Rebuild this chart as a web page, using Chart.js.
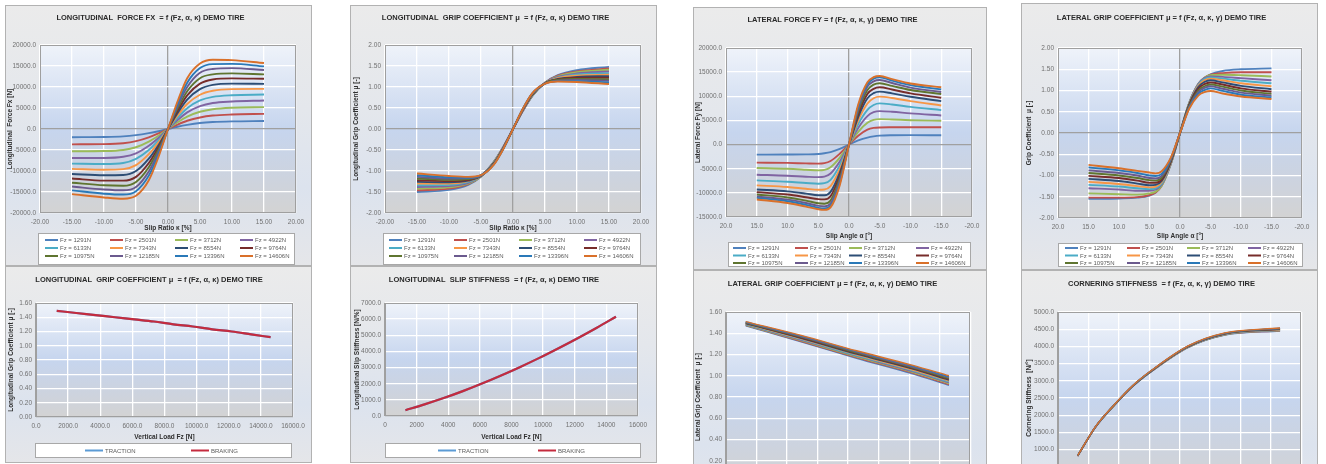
<!DOCTYPE html>
<html><head><meta charset="utf-8">
<script src="https://cdn.jsdelivr.net/npm/chart.js@4.4.1/dist/chart.umd.min.js"></script>
<style>
html,body{margin:0;padding:0;width:1326px;height:464px;overflow:hidden;background:#ffffff;}
.panel{position:absolute;overflow:hidden;background:linear-gradient(180deg,#ebebeb 0%,#e4e7ec 40%,#dce3ee 70%,#e5e6e9 100%);box-shadow:inset 0 0 0 1px #b2b2b2;}
.panel canvas{position:absolute;left:0;top:0;}
</style></head><body>
<div class="panel" style="left:5px;top:5px;width:307px;height:261px"><canvas id="cA"></canvas></div>
<div class="panel" style="left:5px;top:266px;width:307px;height:197px"><canvas id="cA2"></canvas></div>
<div class="panel" style="left:350px;top:5px;width:307px;height:261px"><canvas id="cB"></canvas></div>
<div class="panel" style="left:350px;top:266px;width:307px;height:197px"><canvas id="cB2"></canvas></div>
<div class="panel" style="left:693px;top:7px;width:294px;height:263px"><canvas id="cC"></canvas></div>
<div class="panel" style="left:693px;top:270px;width:294px;height:250px"><canvas id="cC2"></canvas></div>
<div class="panel" style="left:1021px;top:3px;width:297px;height:267px"><canvas id="cD"></canvas></div>
<div class="panel" style="left:1021px;top:270px;width:297px;height:250px"><canvas id="cD2"></canvas></div>
<script>
// ---------------- DATA ----------------
const FZ_LABELS = ['Fz = 1291N','Fz = 2501N','Fz = 3712N','Fz = 4922N','Fz = 6133N','Fz = 7343N','Fz = 8554N','Fz = 9764N','Fz = 10975N','Fz = 12185N','Fz = 13396N','Fz = 14606N'];
const FZ_LOADS = [1291,2501,3712,4922,6133,7343,8554,9764,10975,12185,13396,14606];

const SLIP_RATIO = [-15,-10,-7,-5,-3,-1.5,0,1.5,3,5,7,10,15];
const FX_VALUES = [
  [-1950,-1900,-1750,-1450,-980,-540,0,540,980,1420,1650,1810,1910],
  [-3650,-3600,-3380,-2900,-2000,-1070,0,1060,1960,2750,3200,3450,3600],
  [-5300,-5250,-5000,-4350,-3000,-1600,0,1590,2950,4100,4700,5050,5200],
  [-6900,-6900,-6620,-5800,-4000,-2150,0,2130,3950,5450,6200,6550,6800],
  [-8250,-8350,-8100,-7100,-5000,-2700,0,2680,4950,6800,7650,8050,8200],
  [-9500,-9700,-9550,-8600,-6000,-3250,0,3230,5950,8150,9100,9500,9550],
  [-10700,-11000,-10950,-10000,-7050,-3850,0,3800,7000,9500,10500,10800,10750],
  [-11800,-12300,-12300,-11400,-8100,-4400,0,4350,8000,10800,11800,12050,11950],
  [-12800,-13400,-13500,-12600,-9100,-4950,0,4900,9000,12100,13000,13250,13000],
  [-13700,-14400,-14600,-13800,-10100,-5500,0,5450,10000,13400,14300,14500,14050],
  [-14600,-15400,-15600,-14800,-11100,-6100,0,6000,11000,14500,15450,15500,14900],
  [-15500,-16300,-16600,-15900,-12200,-6700,0,6600,12100,15600,16500,16400,15700]
];
const MUX_VALUES = [
  [-1.50,-1.45,-1.33,-1.13,-0.78,-0.42,0,0.42,0.78,1.10,1.28,1.40,1.48],
  [-1.46,-1.42,-1.31,-1.13,-0.79,-0.42,0,0.42,0.79,1.10,1.27,1.37,1.44],
  [-1.42,-1.39,-1.30,-1.13,-0.79,-0.43,0,0.43,0.79,1.10,1.25,1.35,1.41],
  [-1.38,-1.36,-1.28,-1.12,-0.80,-0.43,0,0.43,0.80,1.10,1.24,1.32,1.37],
  [-1.34,-1.33,-1.26,-1.12,-0.80,-0.44,0,0.44,0.80,1.09,1.22,1.30,1.33],
  [-1.30,-1.30,-1.24,-1.12,-0.81,-0.44,0,0.44,0.81,1.09,1.21,1.27,1.29],
  [-1.26,-1.27,-1.23,-1.12,-0.82,-0.45,0,0.45,0.82,1.09,1.19,1.24,1.26],
  [-1.22,-1.24,-1.21,-1.11,-0.82,-0.45,0,0.45,0.82,1.09,1.18,1.22,1.22],
  [-1.18,-1.21,-1.19,-1.11,-0.83,-0.46,0,0.46,0.83,1.09,1.17,1.19,1.18],
  [-1.14,-1.18,-1.17,-1.11,-0.84,-0.46,0,0.46,0.84,1.08,1.15,1.17,1.15],
  [-1.10,-1.15,-1.16,-1.10,-0.84,-0.47,0,0.47,0.84,1.08,1.14,1.14,1.11],
  [-1.06,-1.12,-1.14,-1.10,-0.85,-0.47,0,0.47,0.85,1.08,1.13,1.12,1.07]
];

const SLIP_ANGLE = [15,10,7,5,4,3,1.5,0,-1.5,-3,-4,-5,-7,-10,-15];
const FY_VALUES = [
  [-2080,-2060,-2030,-1950,-1800,-1550,-900,0,850,1450,1700,1850,1930,1950,1940],
  [-3740,-3800,-3900,-3950,-3850,-3400,-1900,0,1850,3100,3450,3550,3580,3600,3600],
  [-4850,-5000,-5200,-5350,-5250,-4700,-2700,0,2650,4500,5100,5270,5200,5050,4920],
  [-6240,-6450,-6650,-6750,-6650,-6000,-3500,0,3450,5900,6700,6930,6800,6450,6030],
  [-7420,-7700,-7950,-8100,-8000,-7300,-4300,0,4250,7200,8200,8530,8300,7800,7140],
  [-8460,-8800,-9150,-9350,-9300,-8600,-5100,0,5000,8500,9600,9920,9650,9000,8100],
  [-9290,-9700,-10150,-10500,-10500,-9800,-5800,0,5700,9600,10650,10960,10600,9900,9000],
  [-9850,-10350,-10900,-11300,-11350,-10700,-6400,0,6300,10500,11550,11860,11400,10600,9700],
  [-10330,-10950,-11600,-12150,-12250,-11600,-7000,0,6900,11300,12400,12690,12150,11300,10470],
  [-10750,-11400,-12100,-12700,-12800,-12200,-7500,0,7400,12000,13100,13380,12750,11800,10900],
  [-11030,-11750,-12500,-13100,-13250,-12700,-8000,0,7900,12500,13650,13940,13250,12300,11440],
  [-11370,-12100,-12850,-13400,-13520,-13000,-8400,0,8300,12900,13950,14200,13550,12650,11860]
];
const MUY_VALUES = [
  [-1.55,-1.54,-1.52,-1.47,-1.40,-1.22,-0.70,0,0.68,1.12,1.28,1.38,1.46,1.50,1.52],
  [-1.52,-1.52,-1.51,-1.46,-1.40,-1.24,-0.72,0,0.70,1.15,1.30,1.37,1.41,1.43,1.43],
  [-1.42,-1.44,-1.45,-1.42,-1.38,-1.24,-0.73,0,0.71,1.16,1.30,1.36,1.37,1.36,1.33],
  [-1.30,-1.33,-1.36,-1.36,-1.33,-1.21,-0.72,0,0.70,1.15,1.29,1.33,1.32,1.29,1.24],
  [-1.22,-1.26,-1.30,-1.32,-1.30,-1.19,-0.71,0,0.69,1.13,1.27,1.31,1.28,1.23,1.17],
  [-1.15,-1.20,-1.25,-1.28,-1.26,-1.16,-0.70,0,0.68,1.11,1.24,1.28,1.24,1.17,1.10],
  [-1.08,-1.13,-1.19,-1.23,-1.22,-1.13,-0.68,0,0.67,1.08,1.20,1.24,1.19,1.11,1.03],
  [-1.01,-1.06,-1.12,-1.17,-1.17,-1.09,-0.66,0,0.65,1.04,1.15,1.19,1.14,1.05,0.97],
  [-0.94,-1.00,-1.06,-1.11,-1.12,-1.05,-0.64,0,0.63,1.00,1.10,1.14,1.09,1.00,0.92],
  [-0.88,-0.94,-1.00,-1.06,-1.07,-1.01,-0.62,0,0.61,0.96,1.06,1.10,1.04,0.95,0.88],
  [-0.81,-0.88,-0.94,-1.00,-1.01,-0.96,-0.60,0,0.59,0.92,1.01,1.05,0.99,0.90,0.84],
  [-0.75,-0.83,-0.89,-0.93,-0.95,-0.90,-0.58,0,0.57,0.88,0.96,0.99,0.93,0.86,0.80]
];

const MU_TRACTION = [1.49,1.46,1.43,1.40,1.37,1.34,1.30,1.27,1.23,1.20,1.16,1.12];
const MU_BRAKING  = [1.49,1.46,1.43,1.40,1.37,1.34,1.30,1.27,1.23,1.20,1.16,1.12];
const STIFF_TRACTION = [360,720,1110,1540,2010,2510,3040,3600,4200,4820,5470,6150];
const STIFF_BRAKING  = [360,720,1110,1540,2010,2510,3040,3600,4200,4820,5470,6150];

const LAT_MU_LOADS = [1291,4922,8554,12185,14606];
const LAT_MU_VALUES = [
  [1.470,1.320,1.165,1.020,0.910],
  [1.474,1.325,1.171,1.027,0.918],
  [1.477,1.331,1.178,1.035,0.926],
  [1.481,1.336,1.184,1.042,0.935],
  [1.485,1.342,1.190,1.049,0.943],
  [1.488,1.347,1.197,1.056,0.951],
  [1.492,1.353,1.203,1.064,0.959],
  [1.495,1.358,1.210,1.071,0.967],
  [1.499,1.364,1.216,1.078,0.975],
  [1.503,1.369,1.222,1.085,0.984],
  [1.506,1.375,1.229,1.093,0.992],
  [1.510,1.380,1.235,1.100,1.000]
];
const CORNER_LOADS = [1291,2501,3712,4922,6133,8554,10975,14606];
const CORNER_VALUES = [
  [812,1670,2288,2836,3262,3965,4328,4445],
  [813,1672,2290,2839,3265,3970,4334,4453],
  [815,1674,2292,2841,3269,3974,4340,4461],
  [816,1675,2295,2844,3272,3979,4345,4470],
  [818,1677,2297,2846,3275,3983,4351,4478],
  [819,1679,2299,2849,3278,3988,4357,4486],
  [821,1681,2301,2851,3282,3992,4363,4494],
  [822,1683,2303,2854,3285,3997,4369,4502],
  [824,1685,2305,2856,3288,4001,4375,4510],
  [825,1686,2308,2859,3291,4006,4380,4519],
  [827,1688,2310,2861,3295,4010,4386,4527],
  [828,1690,2312,2864,3298,4015,4392,4535]
];
const CURVE_LABELS = ['Curve 1','Curve 2','Curve 3','Curve 4','Curve 5','Curve 6','Curve 7','Curve 8','Curve 9','Curve 10','Curve 11','Curve 12'];
const MODE_LABELS = ['TRACTION','BRAKING'];

// ---------------- STYLE ----------------
const FONT = "'Liberation Sans Narrow','Arial Narrow','Liberation Sans',Arial,sans-serif";
Chart.defaults.font.family = FONT;
Chart.defaults.font.size = 6.5;
Chart.defaults.color = '#6f6f6f';
const PALETTE = ['#4F81BD','#C0504D','#9BBB59','#8064A2','#4BACC6','#F79646','#2C4D75','#772C2A','#5F7530','#6B5A8E','#2A79B8','#D9702A'];
const MODE_COLORS = ['#5B9BD5','#C42B3E'];

const LEGENDS = {
  cA: {box:[33,228,257,32], cols:[7,72,137,202], rows:[7,15,23], line:13},
  cB: {box:[33,228,258,32], cols:[6,71,136,201], rows:[7,15,23], line:13},
  cC: {box:[35,235,243,25], cols:[5,67,121,188], rows:[6,13.5,21], line:13},
  cD: {box:[37,240,245,24], cols:[7,69,129,190], rows:[5,12.5,20], line:13},
  cA2:{box:[30,177,257,15], cols:[50,156], rows:[7.5], line:18},
  cB2:{box:[35,177,256,15], cols:[53,153], rows:[7.5], line:18}
};

const panelPlugin = {
  id: 'panelPlugin',
  beforeDraw(chart) {
    const {ctx, chartArea: a} = chart;
    const g = ctx.createLinearGradient(0, a.top, 0, a.bottom);
    g.addColorStop(0, '#eff3fa');
    g.addColorStop(0.5, '#c6d5ee');
    g.addColorStop(0.8, '#cdd3de');
    g.addColorStop(1, '#d3d3d3');
    ctx.save();
    ctx.fillStyle = g;
    ctx.fillRect(a.left, a.top, a.right - a.left, a.bottom - a.top);
    ctx.restore();
  },
  beforeDatasetsDraw(chart) {
    const {ctx, chartArea: a} = chart;
    ctx.save();
    ctx.strokeStyle = '#9f9f9f';
    ctx.lineWidth = 1;
    ctx.strokeRect(Math.round(a.left) + 0.5, Math.round(a.top) + 0.5, Math.round(a.right - a.left) - 1, Math.round(a.bottom - a.top) - 1);
    ctx.restore();
  },
  afterDraw(chart) {
    const L = LEGENDS[chart.canvas.id];
    if (!L) return;
    const ctx = chart.ctx;
    const [bx, by, bw, bh] = L.box;
    ctx.save();
    ctx.fillStyle = '#ffffff';
    ctx.fillRect(bx, by, bw, bh);
    ctx.strokeStyle = '#a8a8a8';
    ctx.lineWidth = 1;
    ctx.strokeRect(bx + 0.5, by + 0.5, bw - 1, bh - 1);
    ctx.font = "6px " + FONT;
    ctx.textBaseline = 'middle';
    ctx.textAlign = 'left';
    chart.data.datasets.forEach((ds, i) => {
      const c = i % L.cols.length, r = Math.floor(i / L.cols.length);
      const x = bx + L.cols[c], y = by + L.rows[r];
      ctx.strokeStyle = ds.borderColor;
      ctx.lineWidth = 2;
      ctx.beginPath(); ctx.moveTo(x, y); ctx.lineTo(x + L.line, y); ctx.stroke();
      ctx.fillStyle = '#5c5c5c';
      ctx.fillText(ds.label, x + L.line + 2, y + 0.5);
    });
    ctx.restore();
  }
};

function gridColor(c) { return (c.tick && c.tick.value === 0) ? '#a0a0a0' : '#ffffff'; }

function lineSets(xs, rows, labels, colors, width) {
  return rows.map((ys, i) => ({
    label: labels[i],
    data: xs.map((x, j) => ({x: x, y: ys[j]})),
    borderColor: colors[i], backgroundColor: colors[i],
    borderWidth: width, pointRadius: 0, pointHoverRadius: 0, fill: false,
    cubicInterpolationMode: 'monotone', order: rows.length - i
  }));
}

function build(id, L) {
  const canvas = document.getElementById(id);
  canvas.width = L.w; canvas.height = L.h;
  canvas.style.width = L.w + 'px'; canvas.style.height = L.h + 'px';
  const [pl, pt, pr, pb] = L.plot;
  const tFont = 7.5, tLH = tFont * 1.2;
  const tTop = L.titleY - tLH / 2;
  const aFont = 6.5, aLH = aFont * 1.2;
  const xH = L.xTitleY + aLH / 2 - pb;
  return new Chart(canvas, {
    type: 'line',
    data: {datasets: L.datasets},
    plugins: [panelPlugin],
    options: {
      responsive: false, maintainAspectRatio: false, animation: false, events: [],
      layout: {padding: {left: 0, top: 0, right: L.w - pr, bottom: L.h - pb - xH}},
      plugins: {
        legend: {display: false}, tooltip: {enabled: false},
        title: {display: true, text: L.title, color: '#2a2a2a',
          font: {size: tFont, weight: 'bold', family: FONT, lineHeight: 1.2},
          padding: {top: tTop, bottom: pt - tTop - tLH}}
      },
      scales: {
        x: {type: 'linear', position: 'bottom', min: L.x[0], max: L.x[1], reverse: !!L.xRev,
          afterFit: s => { s.height = xH; },
          ticks: {stepSize: L.x[2], autoSkip: false, maxRotation: 0, padding: L.xPad || 5, color: '#707070',
            callback: v => Number(v).toFixed(L.x[3])},
          grid: {color: gridColor, lineWidth: 1.3, drawTicks: false},
          border: {display: false},
          title: {display: true, text: L.xTitle, color: '#2f2f2f', font: {size: aFont, weight: 'bold', lineHeight: 1.2}, padding: {top: 0, bottom: 0}}
        },
        y: {type: 'linear', position: 'left', min: L.y[0], max: L.y[1],
          afterFit: s => { s.width = pl; },
          ticks: {stepSize: L.y[2], autoSkip: false, padding: 4, color: '#707070',
            callback: v => Number(v).toFixed(L.y[3])},
          grid: {color: gridColor, lineWidth: 1.3, drawTicks: false},
          border: {display: false},
          title: {display: true, text: L.yTitle, color: '#2f2f2f', font: {size: aFont, weight: 'bold', lineHeight: 1.2}, padding: {top: L.yTitleX - aLH / 2, bottom: 0}}
        }
      }
    }
  });
}

build('cA', {w:307, h:261, plot:[35,40,291,208], titleY:13, xTitleY:223, yTitleX:5,
  title:'LONGITUDINAL  FORCE FX  = f (Fz, α, κ) DEMO TIRE',
  xTitle:'Slip Ratio κ [%]', yTitle:'Longitudinal  Force Fx [N]',
  x:[-20,20,5,2], y:[-20000,20000,5000,1],
  datasets: lineSets(SLIP_RATIO, FX_VALUES, FZ_LABELS, PALETTE, 1.9)});

build('cB', {w:307, h:261, plot:[35,40,291,208], titleY:13, xTitleY:223, yTitleX:6,
  title:'LONGITUDINAL  GRIP COEFFICIENT μ  = f (Fz, α, κ) DEMO TIRE',
  xTitle:'Slip Ratio κ [%]', yTitle:'Longitudinal Grip Coefficient μ [-]',
  x:[-20,20,5,2], y:[-2,2,0.5,2],
  datasets: lineSets(SLIP_RATIO, MUX_VALUES, FZ_LABELS, PALETTE, 1.9)});

build('cC', {w:294, h:263, plot:[33,41,279,210], titleY:13, xTitleY:229, yTitleX:5,
  title:'LATERAL FORCE FY = f (Fz, α, κ, γ) DEMO TIRE',
  xTitle:'Slip Angle α [°]', yTitle:'Lateral Force Fy [N]',
  x:[-20,20,5,1], xRev:true, y:[-15000,20000,5000,1],
  datasets: lineSets(SLIP_ANGLE, FY_VALUES, FZ_LABELS, PALETTE, 1.9)});

build('cD', {w:297, h:267, plot:[37,45,281,215], titleY:15, xTitleY:233, yTitleX:8,
  title:'LATERAL GRIP COEFFICIENT μ = f (Fz, α, κ, γ) DEMO TIRE',
  xTitle:'Slip Angle α [°]', yTitle:'Grip Coefficient  μ [-]',
  x:[-20,20,5,1], xRev:true, y:[-2,2,0.5,2],
  datasets: lineSets(SLIP_ANGLE, MUY_VALUES, FZ_LABELS, PALETTE, 1.9)});

build('cA2', {w:307, h:197, plot:[31,37,288,151], titleY:14, xTitleY:171, yTitleX:6,
  title:'LONGITUDINAL  GRIP COEFFICIENT μ  = f (Fz, α, κ) DEMO TIRE',
  xTitle:'Vertical Load Fz [N]', yTitle:'Longitudinal Grip Coefficient μ [-]',
  x:[0,16000,2000,1], y:[0,1.6,0.2,2],
  datasets: lineSets(FZ_LOADS, [MU_TRACTION, MU_BRAKING], MODE_LABELS, MODE_COLORS, 2.2)});

build('cB2', {w:307, h:197, plot:[35,37,288,150], titleY:14, xTitleY:171, yTitleX:7,
  title:'LONGITUDINAL  SLIP STIFFNESS  = f (Fz, α, κ) DEMO TIRE',
  xTitle:'Vertical Load Fz [N]', yTitle:'Longitudinal Slip Stiffness [N/%]',
  x:[0,16000,2000,0], y:[0,7000,1000,1],
  datasets: lineSets(FZ_LOADS, [STIFF_TRACTION, STIFF_BRAKING], MODE_LABELS, MODE_COLORS, 2.2)});

build('cC2', {w:294, h:250, plot:[33,42,279,212], titleY:14, xTitleY:236, yTitleX:5,
  title:'LATERAL GRIP COEFFICIENT μ = f (Fz, α, κ, γ) DEMO TIRE',
  xTitle:'Vertical Load Fz [N]', yTitle:'Lateral Grip Coefficient  μ [-]',
  x:[0,16000,2000,1], y:[0,1.6,0.2,2],
  datasets: lineSets(LAT_MU_LOADS, LAT_MU_VALUES, CURVE_LABELS, PALETTE, 1.4)});

build('cD2', {w:297, h:250, plot:[37,42,281,214], titleY:14, xTitleY:238, yTitleX:8,
  title:'CORNERING STIFFNESS  = f (Fz, α, κ, γ) DEMO TIRE',
  xTitle:'Vertical Load Fz [N]', yTitle:'Cornering Stiffness  [N/°]',
  x:[0,16000,2000,1], y:[0,5000,500,1],
  datasets: lineSets(CORNER_LOADS, CORNER_VALUES, CURVE_LABELS, PALETTE, 1.4)});
</script>
</body></html>
